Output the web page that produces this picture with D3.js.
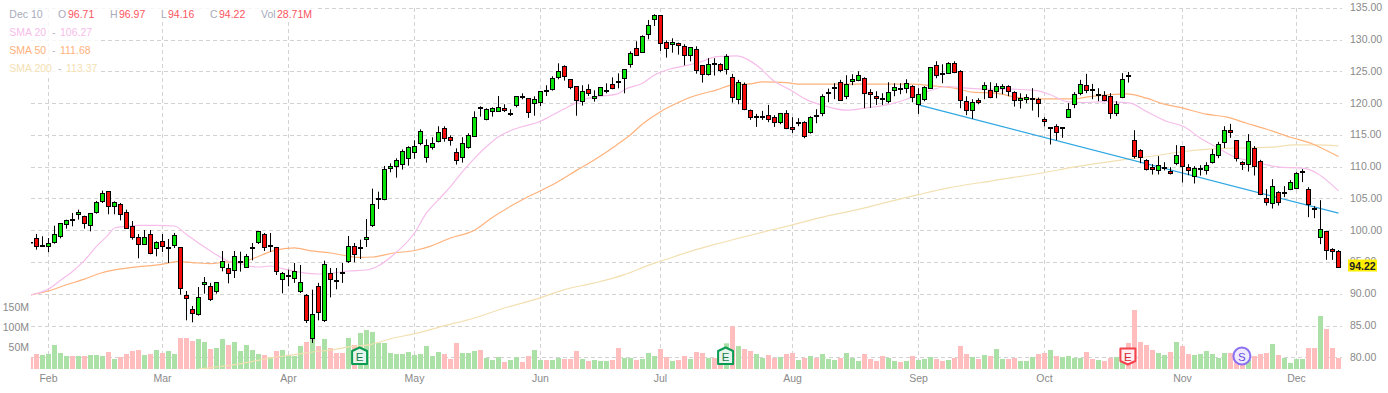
<!DOCTYPE html>
<html>
<head>
<meta charset="utf-8">
<title>Candlestick chart</title>
<script src="https://cdn.jsdelivr.net/npm/d3@7"></script>
<style>
  html, body { margin: 0; padding: 0; background: #fff; overflow: hidden; }
  text { font-family: "Liberation Sans", Arial, sans-serif; font-size: 10.5px; }
</style>
</head>
<body>
<div id="chart"></div>
<script>
// daily bars
const opens = [98.1,98.71,97.55,97.45,98.23,98.97,100.91,101.7,102.48,102.17,100.75,102.8,104.69,106.1,103.74,104.21,102.95,100.75,99.02,97.92,99.49,97.13,98.39,97.19,97.6,97.29,89.74,87.54,86.9,91.63,91.31,90.37,94.15,93.99,93.83,95.04,94.3,97.13,98.08,99.34,97.6,97.29,92.26,92.8,92.41,90.37,89.74,82.98,91.31,85.81,93.2,92.1,93.41,95.25,
  97.6,97.13,98.55,100.75,104.84,104.95,109.83,110.14,110.46,111.4,112.35,113.76,111.56,113.13,114.08,116.12,114.71,112.35,111.56,113.13,114.86,119.37,117.54,118.8,118.8,119.27,118.38,119.74,121.05,120.84,120.05,120.26,122,122.26,124.14,125.87,123.83,122.73,120.37,122.26,120.84,121.31,122,123.04,123.52,123.99,126.19,128.71,128.08,130.91,133.27,133.9,129.65,129.34,129.49,129.02,127.6,128.55,
  126.04,124.63,126.25,126.2,125.42,124.16,120.7,123.06,118.97,117.86,117.92,118.18,117.86,117.08,118.49,116.29,116.92,117.08,115.5,118.18,118.49,121.69,122.48,123.37,121.17,123.53,123.68,124,121.8,121.17,120.85,120.38,122.11,122.43,122.43,122.74,119.91,120.7,122.43,126.04,124.79,124.79,126.36,125.1,120.38,118.97,120.54,122.27,122.11,121.95,122.43,122.74,121.8,120.54,120.7,120.7,120.7,117.55,
  116.2,116.45,116.14,117.87,119.92,121.65,122.9,122.17,121.38,121.33,121.17,118.5,121.02,124.37,114.25,112.68,111.1,110.01,109.53,109.9,109.38,110.63,113.31,110.01,108.59,109.64,109.53,110.79,111.89,113.94,115.82,114.25,110.79,110.48,113,110.95,105.13,104.34,106.07,105.92,106.54,106.7,109.27,106.54,103.56,99,99.94,97.1,96.71];
const highs = [98.1,99.5,99.13,98.86,100.8,101.22,101.75,102.8,103.32,102.38,102.8,104.69,106.31,106.21,104.63,104.37,103.32,101.54,99.49,100.12,100.12,98.34,99.49,98.71,99.65,97.45,90.53,88.17,91.15,92.73,91.8,91.94,96.82,94.83,96.82,96.71,96.35,98.08,99.97,99.65,99.65,97.45,93.52,93.88,94.93,94.62,90.05,90.74,91.8,95.3,94.14,94.14,94.93,99.18,
  98.08,98.6,101.85,106.63,106.15,110.2,110.6,111.4,112.8,113.29,114.23,115.96,114.39,114.71,116.44,116.44,115.02,112.97,114.71,115.33,118.8,119.58,119.27,119.42,121.21,119.9,119.11,121.21,121.63,120.84,121.15,121.94,122.89,124.3,126.35,126.03,123.83,122.73,122.89,123.04,122.1,122.57,123.2,124.14,124.77,125.4,128.23,129.81,130.75,133.16,134.06,133.9,129.96,130.28,129.6,129.34,128.86,129.02,
  126.04,127.15,127.15,126.36,127.78,124.68,123.74,123.32,119.07,118.39,118.86,119.8,118.18,118.49,118.97,117.86,117.71,117.24,118.02,119.12,121.48,122.37,123.21,123.74,124.47,124.63,125.1,124.16,122.27,121.95,121.64,123.37,123.21,123.21,123.84,122.9,122.43,122.74,125.73,126.67,126.2,126.52,126.67,125.26,121.17,120.7,120.85,123.37,123.37,123.21,123.06,122.9,121.95,121.64,121.48,122.43,120.96,117.86,
  116.3,116.77,116.3,120.07,121.8,123.74,124.69,123.11,122.43,121.96,121.65,120.39,124.79,125,115.82,112.84,111.26,110.48,111.74,110.79,110.01,113.47,113.31,110.48,110.16,110.32,110.79,112.84,113.99,116.45,116.82,114.25,110.95,115.2,113.31,111.16,106.54,108.12,106.23,107.02,107.96,109.22,109.69,106.86,103.87,104.81,99.94,97.26,96.97];
const lows = [98.1,97.03,97.55,96.61,97.97,98.81,100.33,100.7,101.75,100.33,99.91,102.69,104.37,102.59,102.59,101.64,100.28,98.6,95.67,97.82,96.3,95.98,96.66,94.93,97.29,89.95,85.91,85.6,86.65,90.11,88.95,90.11,93.62,91.73,92.57,93.57,94.2,95.35,97.92,96.82,96.66,93.04,90.16,91.26,91.8,90.21,85.49,82.35,85.91,85.65,89.53,90.79,91.8,94.93,
  95.04,95.56,97.45,100.6,103.43,104.8,109.2,108.36,109.62,110.25,111.35,113.45,110.72,112.77,113.92,114.02,113.39,110.41,110.72,112.92,114.86,117.96,117.38,117.96,118.8,118.69,118.06,119.42,120.68,117.75,118.1,119.63,121.21,122.05,123.83,123.62,122.26,118.1,119.69,121.21,120.32,121.26,121.63,122.26,122.41,121.63,125.67,127.55,128.02,130.12,132.22,128.29,127.24,128.02,127.71,126.03,126.66,124.72,
  123.32,124.42,124.42,124.94,124.58,120.17,119.91,118.97,117.44,116.34,117.44,117.08,116.34,116.76,115.98,115.35,116.45,114.56,115.29,116.92,118.02,120.22,120.7,120.43,120.7,122.9,123.53,119.28,119.33,119.8,119.8,120.07,121.17,121.48,121.64,120.22,118.39,120.38,122.43,124,123.21,124.79,124.79,119.28,118.18,117.6,119.91,120.7,120.85,120.85,121.48,121.17,119.54,119.23,120.07,118.91,117.86,116.4,
  113.57,114.25,114.62,117.87,119.29,121.33,121.65,120.7,120.39,120.39,117.61,118.03,120.86,123.32,111.37,110.63,109.48,108.85,108.85,109.48,108.85,110.32,107.59,108.75,107.44,108.69,108.85,110.58,111.42,113,114.62,110.9,109.58,109.32,108.69,105.6,103.97,103.5,103.97,105.29,106.39,106.54,107.65,102.14,101.98,97.89,95.43,95.43,94.16];
const closes = [98.05,97.45,97.76,97.92,99.49,101.07,101.54,101.54,102.8,101.07,102.69,104.37,105.94,103.74,104.37,102.64,100.44,99.02,97.92,99.02,96.5,98.08,97.6,97.29,99.18,90.84,89.27,86.9,89.58,91.94,89.27,91.8,95.09,93.2,96.03,95.14,96.03,97.29,99.81,97.29,97.76,93.52,93.2,92.95,93.52,91.8,85.81,86.75,87.23,94.62,92.26,91.95,93.31,97.6,
  96.35,97.29,98.87,104.06,105,109.67,110.14,111.09,112.5,113.13,113.29,115.65,113.45,113.76,115.49,114.55,114.23,111.09,113.76,115.02,117.85,119.27,119.11,119.27,119.42,118.95,118.48,121.15,120.95,118.64,120.68,121.94,121.89,123.99,125.09,124.3,122.57,120.53,121.94,121.63,121.15,122.57,122.1,122.41,123.36,125.4,127.92,127.6,130.59,132.32,133.9,129.49,128.71,129.65,129.18,127.6,128.86,125.25,
  124.63,126.2,126.15,125.26,127.46,121.01,123.37,119.12,117.86,118.02,118.02,117.55,117.08,118.49,116.13,115.98,117.08,114.88,117.86,118.07,121.17,121.8,122.58,120.54,123.06,123.84,124.47,121.64,121.48,120.85,120.7,121.8,122.58,122.32,123.21,121.01,121.48,122.58,125.73,124.47,124.63,126.36,124.94,120.54,118.97,120.22,120.22,122.9,121.01,122.74,122.74,121.95,120.54,120.85,121.01,120.8,120.07,117.24,
  116.3,115.56,116.3,119.13,121.49,123.06,122.12,122.07,121.49,120.54,118.5,119.92,123.85,124.27,111.68,111.58,109.69,109.69,110.32,110.01,109.06,111.89,110.16,109.53,109.85,109.74,110.32,112.05,113.62,115.82,115.51,111.42,110.48,114.1,110.16,105.76,104.5,106.96,104.5,106.07,107.65,109.06,109.38,104.18,103.4,100.25,96.95,96.79,94.22];
// volume in millions
const volumes = [31.3,39.1,36.5,39.1,62.6,41.7,33.9,33.9,33.9,33.9,36.5,36.5,33.9,44.3,26.1,31.3,39.1,47,49.6,36.5,39.1,49.6,41.7,47,39.1,80.9,80.9,73,78.3,70.4,52.2,54.8,78.3,62.6,70.4,47,62.6,49.6,39.1,36.5,31.3,47,49.6,36.5,33.9,60,70.4,93.9,60,78.3,54.8,41.7,41.7,80.9,
  62.6,93.9,101.7,96.5,67.8,67.8,41.7,39.1,39.1,44.3,36.5,39.1,60,33.9,44.3,39.1,26.1,67.8,41.7,41.7,47,49.6,28.7,23.5,31.3,18.3,23.5,31.3,18.3,33.9,49.6,23.5,23.5,23.5,28.7,26.1,26.1,47,26.1,20.9,23.5,20.9,20.9,23.5,54.8,28.7,28.7,23.5,26.1,41.7,33.9,52.2,31.3,20.9,23.5,33.9,26.1,44.3,
  41.7,28.7,28.7,26,67,112,60,52.2,47,39.1,28.7,36.5,28.7,31.3,39.1,41.7,23.5,28.7,33.9,28.7,39.1,26.1,23.5,28.7,41.7,28.7,20.9,39.1,26.1,20.9,33.9,28.7,20.9,18.3,20.9,33.9,23.5,26.1,31.3,26.1,20.9,23.5,28.7,60,39.1,31.3,26.1,36.5,33.9,52.2,26.1,26.1,28.7,20.9,20.9,31.3,39.1,41.7,
  49.6,33.9,31.3,33.9,28.7,28.7,44.3,26.1,23.5,20.9,28.7,31.3,40.9,67.8,153.9,70.4,62.6,49.6,41.7,36.5,44.3,70.4,60,39.1,36.5,39.1,47,39.1,28.7,41.7,41.7,36.5,36.5,23.5,33.9,39.1,41.7,65.2,36.5,28.7,15.7,26.1,26.1,54.8,54.8,138.3,104.3,54.8,28.71];

// moving averages, sampled along the drawn lines (bar number, price)
const sma20Days = [0,3,5,7,9,11,13,14,16,18,21,24,26,28,30.5,33,35,36.6,38,40,42,45,48,50.5,53,56,58,60.5,64,66,68,70,72,74,76,78,82,84.4,87,89.4,92,94.4,97.7,99.4,102,104,106.6,108.8,111.6,114.4,117.7,119.4,121.6,123.8,126.6,129.4,132.2,136,139.4,142.7,146,149.4,152.7,156,159.4,163.8,167.7,170,172.7,175.5,179.4,183.3,186,189.4,192.2,195,197.7,200.5,203.8,208.3,212,214.4,216.6,218];
const sma20Values = [89.9,90.84,92.2,93.6,95.35,97.55,99.4,100.44,100.7,100.86,100.86,100.75,99.4,98.08,96.5,95.2,94.83,94.4,94.3,94.46,94.04,93.46,93.2,93.36,93.67,93.83,94.5,96.24,99.65,102.8,104.9,106.95,109.3,111.4,113.25,114.8,116.4,117,118.2,119.4,120.6,121.1,121.5,122.4,123.2,124.5,125.45,125.9,126.55,127.4,127.5,127,125.6,123.64,122.17,120.6,119.7,118.97,119.34,119.8,120.7,121.9,122.7,122.43,122.27,122.27,122.06,121.4,120.33,120.18,120.33,120.07,118.76,117.19,116.4,114.56,113.15,111.68,110.9,110,109.85,109.06,107.5,106.27];
const sma50Days = [0,3,6,9,11.8,15,18,21.6,24.4,27,30,33,35,37,40.5,44,46.5,50,53,55,57,60.5,64,66.6,70,74,76.6,80,82.2,85,87.7,91,94.4,97.7,100,102,105,107.7,110,111.6,114.4,117,120,122,126,128,134.6,141.6,147,150.5,154,157,160.8,164.4,168,173.8,176.6,182.7,186,188.8,191.6,196,199.4,202.7,206,210,213.8,216,218];
const sma50Values = [89.9,90.53,91.5,92.4,93.36,94,94.35,94.67,95.14,95,94.83,95.1,95,95.6,96.87,97.3,96.87,96.5,96,95.8,95.87,96.5,96.9,97.55,98.87,100.07,101.85,103.85,105,106.3,107.6,109.5,111.4,113.5,115.1,116.8,118.74,120.05,121,121.48,122.17,122.95,123.1,123.43,123.3,123.06,123.06,123.06,123.06,122.8,122.43,121.8,121.64,121,120.75,120.75,121.1,121.54,120.86,119.96,119.4,118.34,117.87,116.92,115.98,114.72,113.62,112.62,111.68];
const sma200Days = [28,30.5,34,37,40.5,44,47,50.5,53,56.6,60.5,64,69,74,79,84,89,94,99,103.3,105,110,115,118.3,123.8,127,132.7,137.2,142.8,148,152.8,160.5,169,173.8,182,186.6,192.2,196.6,200.5,207,210.5,214.4,218];
const sma200Values = [78.25,78.52,78.94,79.46,80.09,80.51,80.93,81.3,81.72,82.08,83.13,83.8,85.07,86.28,87.85,89.16,90.74,91.8,93.1,94.67,95.2,96.77,98.08,98.9,100.2,100.94,102.3,103.2,104.5,105.68,106.7,107.9,109.17,110,111.16,111.68,112.47,112.83,113,113.15,113.5,113.5,113.37];

const trendDays = [148,218];
const trendValues = [119.8,102.77];

const priceTicks = [135,130,125,120,115,110,105,100,95,90,85,80];
const volumeTicks = [50,100,150];
const monthNames = ["Feb","Mar","Apr","May","Jun","Jul","Aug","Sep","Oct","Nov","Dec"];
const monthDays = [3,22,43,64,85,105,127,148,169,192,211];

const headerLabels = ["O","H","L","C","Vol"];
const headerValues = ["96.71","96.97","94.16","94.22","28.71M"];
const smaNames = ["SMA 20","SMA 50","SMA 200"];
const smaLast = ["106.27","111.68","113.37"];
const smaColors = ["#f6bdea","#ffb27c","#f3e0b2"];

const eventDays = [54.85,115.85,182.9,201.9];
const eventKinds = ["up","up","down","split"];

const width = 1388, height = 393;
const left = 31, right = 1342, bottom = 369;

const svg = d3.select("#chart").append("svg")
    .attr("width", width)
    .attr("height", height)
    .style("display", "block");

const x = d3.scaleLinear().domain([0, 218]).range([30.5, 1338.5]);
const y = d3.scaleLinear().domain([135, 80]).range([8.3, 357.9]);
const yVol = d3.scaleLinear().domain([0, 150]).range([369, 311.5]);
// the volume labels sit a little above their bars' scale
const yVolLabel = d3.scaleLinear().domain([50, 150]).range([347.3, 307.3]);

svg.append("defs").append("clipPath").attr("id", "plot")
    .append("rect")
    .attr("x", left).attr("y", 0)
    .attr("width", right - left).attr("height", bottom);

// grid
const crisp = v => Math.round(v - 0.5) + 0.5;
const grid = svg.append("g")
    .attr("stroke", "#d2d2d2")
    .attr("stroke-dasharray", "4 3");
grid.selectAll(".h").data(priceTicks).enter().append("line")
    .attr("class", "h")
    .attr("x1", left).attr("x2", right)
    .attr("y1", d => crisp(y(d))).attr("y2", d => crisp(y(d)));
grid.selectAll(".v").data(monthDays).enter().append("line")
    .attr("class", "v")
    .attr("x1", d => x(d)).attr("x2", d => x(d))
    .attr("y1", 8).attr("y2", bottom);

const plot = svg.append("g").attr("clip-path", "url(#plot)");

// volume
plot.selectAll(".vol").data(volumes).enter().append("rect")
    .attr("class", "vol")
    .attr("x", (d, i) => x(i) - 2.5)
    .attr("width", 5)
    .attr("y", d => yVol(d))
    .attr("height", d => bottom - yVol(d))
    .attr("fill", (d, i) => closes[i] >= opens[i] ? "#abe1a6" : "#ffbdbd");

// moving averages and trend line
const smaLine = d3.line().x(d => x(d[0])).y(d => y(d[1])).curve(d3.curveMonotoneX);
[[sma200Days, sma200Values], [sma50Days, sma50Values], [sma20Days, sma20Values]].forEach((s, k) => {
    plot.append("path")
        .datum(d3.zip(s[0], s[1]))
        .attr("d", smaLine)
        .attr("fill", "none")
        .attr("stroke", smaColors[2 - k])
        .attr("stroke-width", 1.2);
});
plot.append("path")
    .datum(d3.zip(trendDays, trendValues))
    .attr("d", d3.line().x(d => x(d[0])).y(d => y(d[1])))
    .attr("fill", "none")
    .attr("stroke", "#2fa7e3")
    .attr("stroke-width", 1.2);

// candles
const candles = plot.selectAll(".candle").data(closes).enter().append("g").attr("class", "candle");
candles.append("line")
    .attr("x1", (d, i) => x(i)).attr("x2", (d, i) => x(i))
    .attr("y1", (d, i) => y(highs[i])).attr("y2", (d, i) => y(lows[i]))
    .attr("stroke", "#000");
candles.append("rect")
    .attr("x", (d, i) => x(i) - 2)
    .attr("width", 4)
    .attr("y", (d, i) => crisp(y(Math.max(opens[i], closes[i]))))
    .attr("height", (d, i) => Math.max(Math.round(Math.abs(y(opens[i]) - y(closes[i]))), 0.5))
    .attr("fill", (d, i) => closes[i] >= opens[i] ? "#08e408" : "#f50a0a")
    .attr("stroke", "#000");

// right price axis
const priceAxis = d3.axisRight(y).tickValues(priceTicks).tickFormat(d3.format(".2f")).tickSize(0).tickPadding(0);
const priceG = svg.append("g").attr("transform", "translate(1350,-1)").call(priceAxis);
priceG.select(".domain").remove();
priceG.selectAll("text").attr("fill", "#8a8a8a").style("font-size", "10.5px");

// last price tag
svg.append("rect")
    .attr("x", 1348).attr("y", y(closes[218]) - 8)
    .attr("width", 29).attr("height", 12)
    .attr("fill", "#ffee00");
svg.append("text")
    .attr("x", 1362.5).attr("y", y(closes[218]) + 2)
    .attr("text-anchor", "middle")
    .attr("fill", "#222")
    .style("font-weight", "bold")
    .text(d3.format(".2f")(closes[218]));

// left volume axis
const volumeAxis = d3.axisLeft(yVolLabel).tickValues(volumeTicks).tickFormat(d => d + "M").tickSize(0).tickPadding(0);
const volumeG = svg.append("g").attr("transform", "translate(29,0)").call(volumeAxis);
volumeG.select(".domain").remove();
volumeG.selectAll("text").attr("fill", "#8a8a8a").style("font-size", "10.5px");

// months
const monthAxis = d3.axisBottom(d3.scalePoint().domain(monthNames).range([x(monthDays[0]), x(monthDays[10])]))
    .tickSize(0).tickPadding(0);
const monthG = svg.append("g").attr("transform", "translate(0,375)").call(monthAxis);
monthG.select(".domain").remove();
monthG.selectAll(".tick").attr("transform", (d, i) => `translate(${x(monthDays[i])},0)`);
monthG.selectAll("text").attr("fill", "#8a8a8a").style("font-size", "10.5px");

// event markers
const markers = svg.selectAll(".marker").data(eventDays).enter().append("g")
    .attr("class", "marker")
    .attr("transform", d => `translate(${x(d)},356)`);
markers.each(function (d, i) {
    const g = d3.select(this);
    const kind = eventKinds[i];
    if (kind === "split") {
        g.append("circle").attr("r", 8.5)
            .attr("fill", "#efebfd").attr("stroke", "#8b6ff2").attr("stroke-width", 2);
    } else {
        const pts = kind === "up"
            ? [[-7.5, -5], [0, -8.5], [7.5, -5], [7.5, 8], [-7.5, 8]]
            : [[-7.5, -7.5], [7.5, -7.5], [7.5, 5], [0, 8.5], [-7.5, 5]];
        g.append("polygon")
            .attr("points", pts.map(p => p.join(",")).join(" "))
            .attr("stroke-linejoin", "round")
            .attr("stroke-width", 2)
            .attr("fill", kind === "up" ? "#e7f5ec" : "#feeff0")
            .attr("stroke", kind === "up" ? "#0b9b52" : "#f4444e");
    }
    g.append("text")
        .attr("text-anchor", "middle").attr("y", 4.5)
        .attr("fill", kind === "up" ? "#1a7d4b" : kind === "down" ? "#d3242e" : "#6a4ce2")
        .style("font-size", "11.5px")
        .text(kind === "split" ? "S" : "E");
});

// legend, over a pale backing
svg.append("rect").attr("x", 0).attr("y", 0).attr("width", 317).attr("height", 22).attr("fill", "rgba(255,255,255,0.8)");
svg.append("rect").attr("x", 0).attr("y", 22).attr("width", 100).attr("height", 56).attr("fill", "rgba(255,255,255,0.8)");

const labelGrey = "#a8abbd", valueRed = "#fb5560";
const header = svg.append("g").attr("transform", "translate(0,18)");
header.append("text").attr("x", 9.3).attr("fill", labelGrey).text("Dec 10");
const headerLabelX = [58, 110, 161, 210, 261];
const headerValueX = [68, 119, 168, 219, 277];
header.selectAll(".lab").data(headerLabels).enter().append("text")
    .attr("class", "lab")
    .attr("x", (d, i) => headerLabelX[i]).attr("fill", labelGrey).text(d => d);
header.selectAll(".val").data(headerValues).enter().append("text")
    .attr("class", "val")
    .attr("x", (d, i) => headerValueX[i]).attr("fill", valueRed).text(d => d);

smaNames.forEach((name, i) => {
    const row = svg.append("g").attr("transform", `translate(0,${36 + 18 * i})`).attr("fill", smaColors[i]);
    row.append("text").attr("x", 9.3).text(name);
    row.append("text").attr("x", i === 2 ? 58 : 52).attr("fill", "#b5b5c0").text("-");
    row.append("text").attr("x", i === 2 ? 66 : 60).text(smaLast[i]);
});
</script>
</body>
</html>
